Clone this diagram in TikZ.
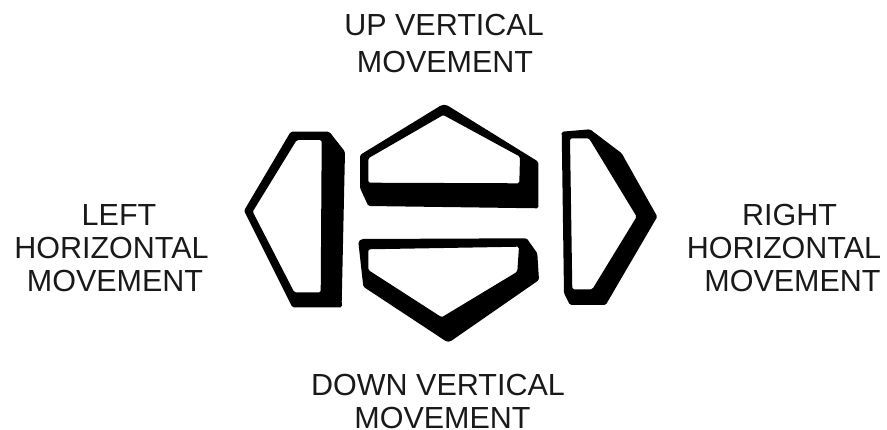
\documentclass[tikz,border=0pt]{standalone}
\usepackage{fontspec}
\setmainfont{Liberation Sans}
\usepackage{tikz}

\begin{document}
\begin{tikzpicture}[
    x=1pt, y=-1pt,
    lab/.style={font=\fontsize{30.5}{33}\selectfont, align=center, inner sep=0pt, text=black!90},
    keycap/.style={fill=black, even odd rule, rounded corners=1.5pt, draw=none}
  ]
  \useasboundingbox (0,0) rectangle (887,430);

  % labels round the keys
  \node[lab, font=\fontsize{30.5}{37}\selectfont] (up) at (444,44) {UP VERTICAL\\\hspace*{2pt}MOVEMENT};
  \node[lab] (left) at (115,248) {\hspace*{8pt}LEFT\\HORIZONTAL\hspace*{7pt}\mbox{}\\MOVEMENT};
  \node[lab] (right) at (786,248) {\hspace*{7pt}RIGHT\\HORIZONTAL\hspace*{4pt}\mbox{}\\\hspace*{13pt}MOVEMENT};
  \node[lab] (down) at (438,402) {DOWN VERTICAL\\\hspace*{9pt}MOVEMENT};

  % left key
  \fill[keycap] (290.7,131.7) -- (329.3,131.7) -- (345,151.7) -- (341.7,303) -- (342,307.3) -- (292.3,307.3) -- (244,210.7) -- cycle
    (296.7,140) -- (321.7,140) -- (320.7,292.3) -- (294.3,292.3) -- (252.7,211.7) -- cycle;

  % up key
  \fill[keycap] (360,155) -- (441.7,105) -- (446.7,105) -- (538.3,161.7) -- (538.3,208.3) -- (368.3,206) -- (360,188) -- cycle
    (368.3,158.3) -- (443.3,115) -- (520,156.7) -- (519.3,183.3) -- (368.3,182.7) -- cycle;

  % down key
  \fill[keycap] (358.3,241.7) -- (361.7,239) -- (526.7,238.3) -- (537.3,253.3) -- (539,280) -- (450,341.7) -- (446.7,341.7) -- (363.3,286.7) -- cycle
    (368.3,249.3) -- (519,246.7) -- (517.3,271.7) -- (441.7,317.3) -- (368.3,270) -- cycle;

  % right key
  \fill[keycap] (561.7,131.7) -- (590,129.3) -- (621.7,153.3) -- (657.3,216.7) -- (605.7,305) -- (570,305) -- (564,293.3) -- cycle
    (570,138.3) -- (589,138.3) -- (636.7,216.7) -- (592.3,289.3) -- (572.3,289.3) -- cycle;
\end{tikzpicture}
\end{document}
